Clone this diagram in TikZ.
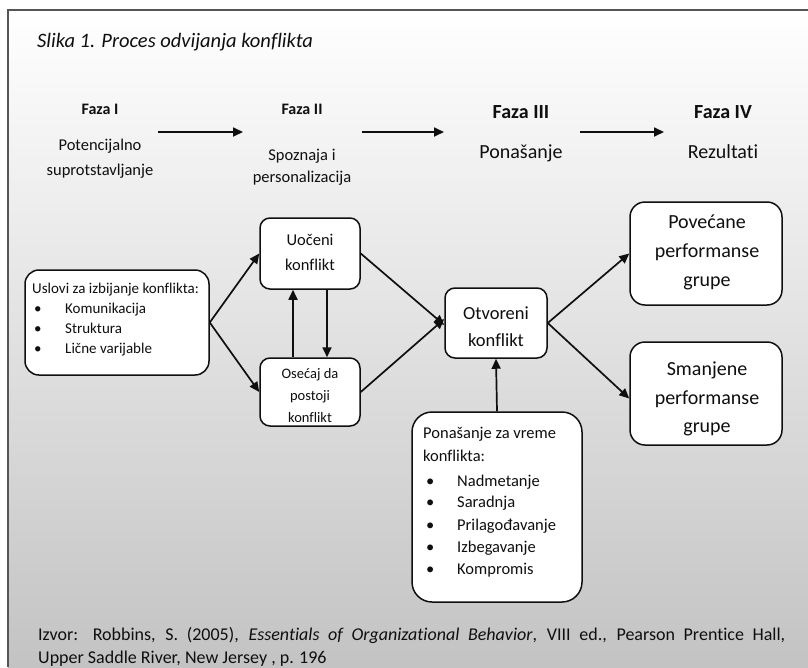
\documentclass[tikz,border=0pt]{standalone}
\usepackage{fontspec}
\setmainfont{Carlito}[Ligatures=NoCommon]
\usetikzlibrary{arrows.meta}
\definecolor{bgbot}{RGB}{195,195,195}
\definecolor{framec}{RGB}{85,85,85}
\definecolor{ink}{RGB}{15,15,15}
\begin{document}
\begin{tikzpicture}[x=1pt,y=-1pt,
  box/.style={draw=ink, line width=1.5pt, fill=white, rounded corners=#1, inner sep=0pt},
  box/.default=10pt,
  arr/.style={line width=1.7pt, draw=ink, -{Triangle[length=10pt,width=9pt]}},
  txt/.style={inner sep=0pt, text=ink, anchor=base, font=\fontsize{#1}{#1}\selectfont},
  ltxt/.style={txt=#1, anchor=base west},
  btxt/.style={txt=#1, font=\fontsize{#1}{#1}\selectfont\bfseries}
]
\useasboundingbox (0,0) rectangle (808,667);
\fill[white] (0,0) rectangle (808,667);
\shade[top color=white, bottom color=bgbot] (8,10) rectangle (808,667);
\draw[framec, line width=2pt] (8,667) -- (8,10) -- (808,10);

% title
\node[ltxt=20.5, font=\fontsize{20.5}{20.5}\selectfont\itshape] (title) at (37,47) {Slika 1. Proces odvijanja konflikta};

% phases
\node[btxt=16] (f1) at (100,114) {Faza I};
\node[txt=16.5] (f1a) at (100,150) {Potencijalno};
\node[txt=16.5] (f1b) at (100,175) {suprotstavljanje};
\node[btxt=16] (f2) at (302,114) {Faza II};
\node[txt=16.5] (f2a) at (302,160) {Spoznaja i};
\node[txt=16.5] (f2b) at (302,182) {personalizacija};
\node[btxt=20] (f3) at (521,118) {Faza III};
\node[txt=20] (f3a) at (521,158) {Ponašanje};
\node[btxt=20] (f4) at (723,118) {Faza IV};
\node[txt=20] (f4a) at (723,158) {Rezultati};

\coordinate (a1s) at (158,132); \coordinate (a1e) at (243,132);
\coordinate (a2s) at (362,132); \coordinate (a2e) at (444,132);
\coordinate (a3s) at (580,132); \coordinate (a3e) at (664,132);
\draw[arr] (a1s) -- (a1e);
\draw[arr] (a2s) -- (a2e);
\draw[arr] (a3s) -- (a3e);

% boxes
\node[box=14pt, minimum width=184pt, minimum height=105pt] (us) at (117,322.5) {};
\node[box=10pt, minimum width=100pt, minimum height=71pt] (uo) at (310,253.5) {};
\node[box=10pt, minimum width=100pt, minimum height=68pt] (os) at (310,392) {};
\node[box=10pt, minimum width=102pt, minimum height=70pt] (ot) at (496,323) {};
\node[box=15pt, minimum width=152pt, minimum height=103pt] (pv) at (706,253.5) {};
\node[box=15pt, minimum width=152pt, minimum height=103pt] (sm) at (706,393.5) {};
\node[box=20pt, minimum width=170pt, minimum height=190pt] (pz) at (497,507) {};

% box texts
\node[ltxt=15] (us0) at (32,293) {Uslovi za izbijanje konflikta:};
\node[ltxt=15] (usb1) at (34,313) {•};
\node[ltxt=15] (usb2) at (34,333) {•};
\node[ltxt=15] (usb3) at (34,353) {•};
\node[ltxt=15] (us1) at (65,313) {Komunikacija};
\node[ltxt=15] (us2) at (65,333) {Struktura};
\node[ltxt=15] (us3) at (65,353) {Lične varijable};

\node[txt=16.5] (uo1) at (310,245) {Uočeni};
\node[txt=16.5] (uo2) at (310,270) {konflikt};

\node[txt=14.5] (os1) at (310,378) {Osećaj da};
\node[txt=14.5] (os2) at (310,400) {postoji};
\node[txt=14.5] (os3) at (310,422) {konflikt};

\node[txt=18.5] (ot1) at (496,319) {Otvoreni};
\node[txt=18.5] (ot2) at (496,346) {konflikt};

\node[txt=20] (pv1) at (707,228) {Povećane};
\node[txt=20] (pv2) at (707,257) {performanse};
\node[txt=20] (pv3) at (707,286) {grupe};

\node[txt=20] (sm1) at (707,375) {Smanjene};
\node[txt=20] (sm2) at (707,404) {performanse};
\node[txt=20] (sm3) at (707,432) {grupe};

\node[ltxt=16.5] (pz0) at (423,438) {Ponašanje za vreme};
\node[ltxt=16.5] (pz00) at (423,461) {konflikta:};
\node[ltxt=16.5] (pzb1) at (426,486) {•};
\node[ltxt=16.5] (pzb2) at (426,507) {•};
\node[ltxt=16.5] (pzb3) at (426,530) {•};
\node[ltxt=16.5] (pzb4) at (426,552) {•};
\node[ltxt=16.5] (pzb5) at (426,574) {•};
\node[ltxt=16.5] (pz1) at (457,486) {Nadmetanje};
\node[ltxt=16.5] (pz2) at (457,507) {Saradnja};
\node[ltxt=16.5] (pz3) at (457,530) {Prilagođavanje};
\node[ltxt=16.5] (pz4) at (457,552) {Izbegavanje};
\node[ltxt=16.5] (pz5) at (457,574) {Kompromis};

% connectors
\draw[arr] (us.east) -- (uo.west);
\draw[arr] (us.east) -- (os.west);
\draw[arr] ([xshift=-17pt]os.north) -- ([xshift=-17pt]uo.south);
\draw[arr] ([xshift=17pt]uo.south) -- ([xshift=17pt]os.north);
\draw[arr] (uo.east) -- ([yshift=-2pt]ot.west);
\draw[arr] (os.east) -- ([yshift=4pt]ot.west);
\draw[arr] (ot.east) -- (pv.west);
\draw[arr] (ot.east) -- ([yshift=-5pt]sm.west);
\draw[arr] (pz.north) -- (ot.south);

% footer
\node[ltxt=18] (src1) at (38,640) {\makebox[747pt][s]{Izvor: Robbins, S. (2005), \textit{Essentials of Organizational Behavior}, VIII ed., Pearson Prentice Hall,}};
\node[ltxt=18] (src2) at (38,663) {Upper Saddle River, New Jersey , p. 196};
\end{tikzpicture}
\end{document}
